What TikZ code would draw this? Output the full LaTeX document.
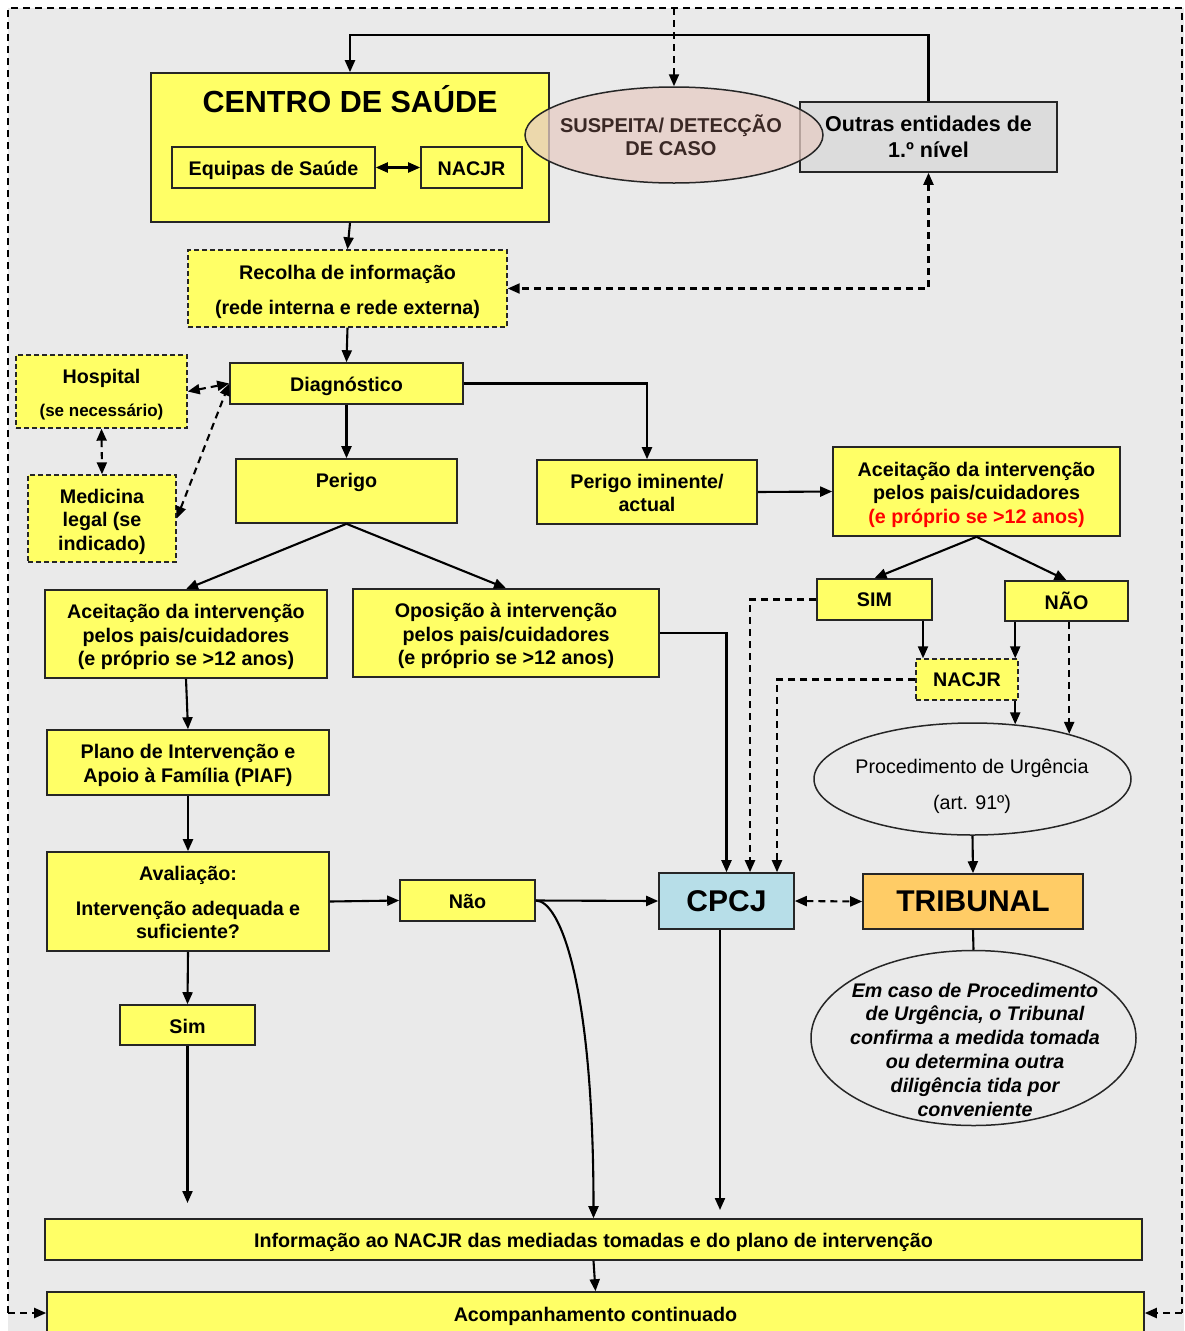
\documentclass[tikz,border=0pt]{standalone}
\usepackage{fontspec}
\setmainfont{Liberation Sans}
\usetikzlibrary{arrows.meta,shapes.geometric}
\definecolor{yel}{HTML}{FFFF66}
\definecolor{bgc}{HTML}{EAEAEA}
\definecolor{gbox}{HTML}{DCDCDC}
\definecolor{cpc}{HTML}{B7DEE8}
\definecolor{trb}{HTML}{FFCC66}
\definecolor{pinkc}{HTML}{E6CCC4}
\definecolor{brn}{HTML}{3A2825}
\newcommand{\mytop}{\rule{0pt}{1.05em}}
\newcommand{\mybot}{\rule[-0.22em]{0pt}{0.22em}}
\begin{document}
\begin{tikzpicture}[x=1pt,y=-1pt,
  txt/.style={font=\fontsize{19.7}{23.5}\selectfont\bfseries, align=center, inner sep=0pt},
  box/.style={txt, draw=black!85, line width=1.6pt, fill=yel},
  dbox/.style={box, dash pattern=on 5pt off 3pt, line width=1.4pt},
  sz/.style 2 args={minimum width=#1pt, minimum height=#2pt},
  ell/.style={ellipse, draw=black!85, line width=1.5pt, inner sep=0pt},
  conn/.style={line width=2.1pt, draw=black},
  arr/.style={conn, -{Triangle[length=12pt,width=10pt]}},
  darr/.style={arr, dash pattern=on 7pt off 5pt},
  botharr/.style={conn, {Triangle[length=12pt,width=10pt]}-{Triangle[length=12pt,width=10pt]}},
  dboth/.style={botharr, dash pattern=on 7pt off 5pt},
  dline/.style={conn, dash pattern=on 7pt off 5pt}
]
\useasboundingbox (0,0) rectangle (1184,1331);
\clip (0,0) rectangle (1184,1331);
\fill[bgc] (8,8) rectangle (1184,1331);

% top area
\node[box, sz={398}{149}] (cs) at (350,147.5) {};
\node[txt, font=\fontsize{30.5}{34}\selectfont\bfseries] (cst) at (350,99.5) {CENTRO DE SAÚDE};
\node[box, sz={203}{41}] (eq) at (273.5,167.5) {\mytop Equipas de Saúde\mybot};
\node[box, sz={101}{41}] (nac1) at (471.5,167.5) {\mytop NACJR\mybot};
\node[box, fill=gbox, sz={257}{70}, font=\fontsize{21.5}{26}\selectfont\bfseries] (outras) at (928.5,137) {Outras entidades de\\1.º nível};
\node[ell, fill=pinkc, fill opacity=0.75, minimum width=298pt, minimum height=96pt] (susp) at (674,135) {};
\node[txt, text=brn, font=\fontsize{20}{23}\selectfont\bfseries] (suspt) at (671,135.5) {SUSPEITA/ DETECÇÃO\\DE CASO};

\node[dbox, sz={319}{77}] (rec) at (347.5,288.5) {\mytop Recolha de informação\\[11.5pt](rede interna e rede externa)\mybot};
\node[box, sz={233}{41}] (diag) at (346.5,383.5) {\mytop Diagnóstico\mybot};
\node[dbox, sz={171}{73}] (hosp) at (101.5,391.5) {\mytop Hospital\\[9.5pt]{\fontsize{17}{20}\selectfont (se necessário)}\mybot};
\node[dbox, sz={148}{87}] (med) at (102,518.5) {\mytop Medicina\\legal (se\\indicado)\mybot};

\node[box, sz={221}{64}] (per) at (346.5,491) {};
\node[txt] (pert) at (346.5,482) {Perigo};
\node[box, sz={220}{64}] (pim) at (647,492) {\mytop Perigo iminente/\\actual\mybot};
\node[box, sz={287}{89}] (acr) at (976.5,491.5) {\mytop Aceitação da intervenção\\pelos pais/cuidadores\\\textcolor{red}{(e próprio se >12 anos)}\mybot};

\node[box, sz={282}{88}] (acl) at (186,634) {\mytop Aceitação da intervenção\\pelos pais/cuidadores\\(e próprio se >12 anos)\mybot};
\node[box, sz={306}{88}] (opo) at (506,633) {\mytop Oposição à intervenção\\pelos pais/cuidadores\\(e próprio se >12 anos)\mybot};
\node[box, sz={282}{65}] (plano) at (188,762.5) {\mytop Plano de Intervenção e\\Apoio à Família (PIAF)\mybot};
\node[box, sz={282}{99}] (aval) at (188,901.5) {\mytop Avaliação:\\[11.5pt]Intervenção adequada e\\suficiente?\mybot};
\node[box, sz={135}{41}] (nao) at (467.5,900.5) {\mytop Não\mybot};
\node[box, sz={135}{40}] (sim) at (187.5,1025) {\mytop Sim\mybot};

\node[box, fill=cpc, sz={135}{56}, font=\fontsize{30}{34}\selectfont\bfseries] (cpcj) at (726.5,901) {CPCJ};
\node[box, fill=trb, sz={220}{55}, font=\fontsize{30}{34}\selectfont\bfseries] (trib) at (973,901.5) {TRIBUNAL};

\node[box, sz={115}{41}] (simr) at (874.5,599.5) {SIM};
\node[box, sz={123}{40}] (naor) at (1066.5,601) {NÃO};
\node[dbox, sz={102}{41}] (nac2) at (967,679.5) {NACJR};

\node[ell, minimum width=317pt, minimum height=112pt] (proc) at (972.5,779) {};
\node[txt, font=\fontsize{19.7}{36}\selectfont] (proct) at (972,786) {Procedimento de Urgência\\(art. 91º)};

\node[ell, minimum width=325pt, minimum height=175pt] (emc) at (973.5,1038) {};
\node[txt, font=\fontsize{19.7}{23.8}\selectfont\bfseries\itshape] (emct) at (975,1049.5) {Em caso de Procedimento\\de Urgência, o Tribunal\\confirma a medida tomada\\ou determina outra\\diligência tida por\\conveniente};

\node[box, sz={1097}{41}] (info) at (593.5,1239.5) {\mytop Informação ao NACJR das mediadas tomadas e do plano de intervenção\mybot};
\node[box, sz={1097}{42}] (acomp) at (595.5,1313) {\mytop Acompanhamento continuado\mybot};

% coordinates
\coordinate (tl) at (8,8);
\coordinate (tr) at (1182,8);
\coordinate (bl) at (8,1313);
\coordinate (br) at (1182,1313);
\coordinate (topd) at (674,8);
\coordinate (topl) at (0,35);
\coordinate (simend) at (187.5,1203);
\coordinate (cpcjend) at (720,1210);

% connectors
\draw[dline] (bl) -- (tl) -- (tr) -- (br);
\draw[darr] (bl) -- (acomp.west);
\draw[darr] (br) -- (acomp.east);
\draw[darr] (topd) -- (susp.north);
\draw[arr] (outras.north) -- (outras.north |- topl) -| (cs.north);
\draw[botharr] (eq.east) -- (nac1.west);
\draw[arr] (cs.south) -- (rec.north);
\draw[dboth] (outras.south) |- (rec.east);
\draw[arr] (rec.south) -- (diag.north);
\draw[dboth] (hosp.east) -- (diag.west);
\draw[dboth] (hosp.south) -- (med.north);
\draw[dboth] (med.east) -- (diag.west);
\draw[arr] (diag.south) -- (per.north);
\draw[arr] (diag.east) -| (pim.north);
\draw[arr] (pim.east) -- (acr.west);
\draw[arr] (per.south) -- (acl.north);
\draw[arr] (per.south) -- (opo.north);
\draw[arr] (acl.south) -- (plano.north);
\draw[arr] (plano.south) -- (aval.north);
\draw[arr] (aval.east) -- (nao.west);
\draw[arr] (nao.east) -- (cpcj.west);
\draw[arr] (nao.east) .. controls +(25,0) and +(0,-230) .. (info.north);
\draw[arr] (aval.south) -- (sim.north);
\draw[arr] (sim.south) -- (simend);
\draw[arr] (cpcj.south -| cpcjend) -- (cpcjend);
\draw[arr] (opo.east) -| (cpcj.north);
\draw[dboth] (cpcj.east) -- (trib.west);
\draw[conn] (trib.south) -- (emc.north);
\draw[arr] (acr.south) -- (simr.north);
\draw[arr] (acr.south) -- (naor.north);
\draw[darr] (simr.west) -| ([xshift=23.5pt]cpcj.north);
\draw[arr] ([xshift=48.5pt]simr.south) -- ([xshift=48.5pt]simr.south |- nac2.north);
\draw[arr] (proc.52.5 |- naor.south) -- (proc.52.5 |- nac2.north);
\draw[darr] (nac2.west) -| ([xshift=50.5pt]cpcj.north);
\draw[arr] (proc.52.5 |- nac2.south) -- (proc.52.5);
\draw[darr] (proc.25.8 |- naor.south) -- (proc.25.8);
\draw[arr] (proc.south) -- (trib.north);
\draw[arr] (info.south) -- (acomp.north);
\end{tikzpicture}
\end{document}
